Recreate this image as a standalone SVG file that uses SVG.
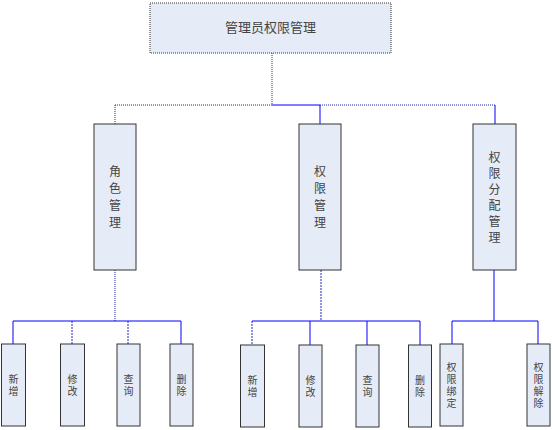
<svg xmlns="http://www.w3.org/2000/svg" width="553" height="430" viewBox="0 0 553 430">
<style>
.box{fill:#E6ECF7;stroke:#333;stroke-width:1}
.dot{stroke-dasharray:1,1}
.t{font-family:"Noto Sans CJK SC","Liberation Sans",sans-serif;fill:#444;text-anchor:middle}
.v{writing-mode:vertical-rl;text-orientation:upright}
.big{font-size:13px}
.mid{font-size:12px;letter-spacing:5px}
.mid6{font-size:12px;letter-spacing:4px}
.sm{font-size:10px;letter-spacing:2px}
.s{stroke:#0000FF;stroke-width:1;fill:none}
.d{stroke:#2222AA;stroke-width:1;fill:none;stroke-dasharray:1,1}
.dash{stroke:#2222CC;stroke-width:1;fill:none;stroke-dasharray:2,1}
</style>
<rect width="553" height="430" fill="#fff"/>
<g id="connectors">
<line class="d" x1="272" y1="53" x2="272" y2="105"/>
<line class="d" x1="115" y1="105" x2="272" y2="105"/>
<line class="s" x1="272" y1="105" x2="320" y2="105"/>
<line class="d" x1="320" y1="105" x2="495" y2="105"/>
<line class="d" x1="115" y1="105" x2="115" y2="124"/>
<line class="s" x1="320" y1="105" x2="320" y2="124"/>
<line class="s" x1="495" y1="105" x2="495" y2="124"/>
<line class="d" x1="115" y1="270" x2="115" y2="321"/>
<line class="s" x1="13" y1="321" x2="181" y2="321"/>
<line class="s" x1="13" y1="321" x2="13" y2="344"/>
<line class="dash" x1="72" y1="321" x2="72" y2="344"/>
<line class="dash" x1="128" y1="321" x2="128" y2="344"/>
<line class="s" x1="181" y1="321" x2="181" y2="344"/>
<line class="dash" x1="321" y1="270" x2="321" y2="321"/>
<line class="s" x1="252" y1="321" x2="420" y2="321"/>
<line class="dash" x1="252" y1="321" x2="252" y2="345"/>
<line class="s" x1="310" y1="321" x2="310" y2="345"/>
<line class="s" x1="367" y1="321" x2="367" y2="345"/>
<line class="s" x1="420" y1="321" x2="420" y2="345"/>
<line class="s" x1="494" y1="270" x2="494" y2="321"/>
<line class="s" x1="452" y1="321" x2="538" y2="321"/>
<line class="s" x1="452" y1="321" x2="452" y2="344"/>
<line class="s" x1="538" y1="321" x2="538" y2="344"/>
</g>
<g id="root">
<rect class="box dot" x="150" y="3" width="241" height="50"/>
<text class="t big" x="270.5" y="32">管理员权限管理</text>
</g>
<g id="n-role">
<rect class="box" x="94" y="124" width="42" height="146"/>
<text class="t v mid" x="115" y="199">角色管理</text>
</g>
<g id="n-perm">
<rect class="box" x="299" y="124" width="42" height="146"/>
<text class="t v mid" x="320" y="199">权限管理</text>
</g>
<g id="n-assign">
<rect class="box" x="473" y="124" width="43" height="146"/>
<text class="t v mid6" x="494.5" y="199">权限分配管理</text>
</g>
<g id="r-add">
<rect class="box" x="1.5" y="344" width="24" height="82"/>
<text class="t v sm" x="13.5" y="386">新增</text>
</g>
<g id="r-edit">
<rect class="box" x="60.5" y="344" width="24" height="82"/>
<text class="t v sm" x="72.5" y="386">修改</text>
</g>
<g id="r-query">
<rect class="box" x="117" y="344" width="23" height="82"/>
<text class="t v sm" x="128.5" y="386">查询</text>
</g>
<g id="r-del">
<rect class="box" x="170" y="344" width="23" height="82"/>
<text class="t v sm" x="181.5" y="386">删除</text>
</g>
<g id="p-add">
<rect class="box" x="240.5" y="345" width="24" height="82"/>
<text class="t v sm" x="252.5" y="387">新增</text>
</g>
<g id="p-edit">
<rect class="box" x="299" y="345" width="23" height="82"/>
<text class="t v sm" x="310.5" y="387">修改</text>
</g>
<g id="p-query">
<rect class="box" x="356" y="345" width="23" height="82"/>
<text class="t v sm" x="367.5" y="387">查询</text>
</g>
<g id="p-del">
<rect class="box" x="408.5" y="345" width="23" height="82"/>
<text class="t v sm" x="420" y="387">删除</text>
</g>
<g id="a-bind">
<rect class="box" x="440" y="344" width="23" height="82"/>
<text class="t v sm" x="451.5" y="386">权限绑定</text>
</g>
<g id="a-unbind">
<rect class="box" x="527" y="344" width="23" height="82"/>
<text class="t v sm" x="538.5" y="386">权限解除</text>
</g>
</svg>
